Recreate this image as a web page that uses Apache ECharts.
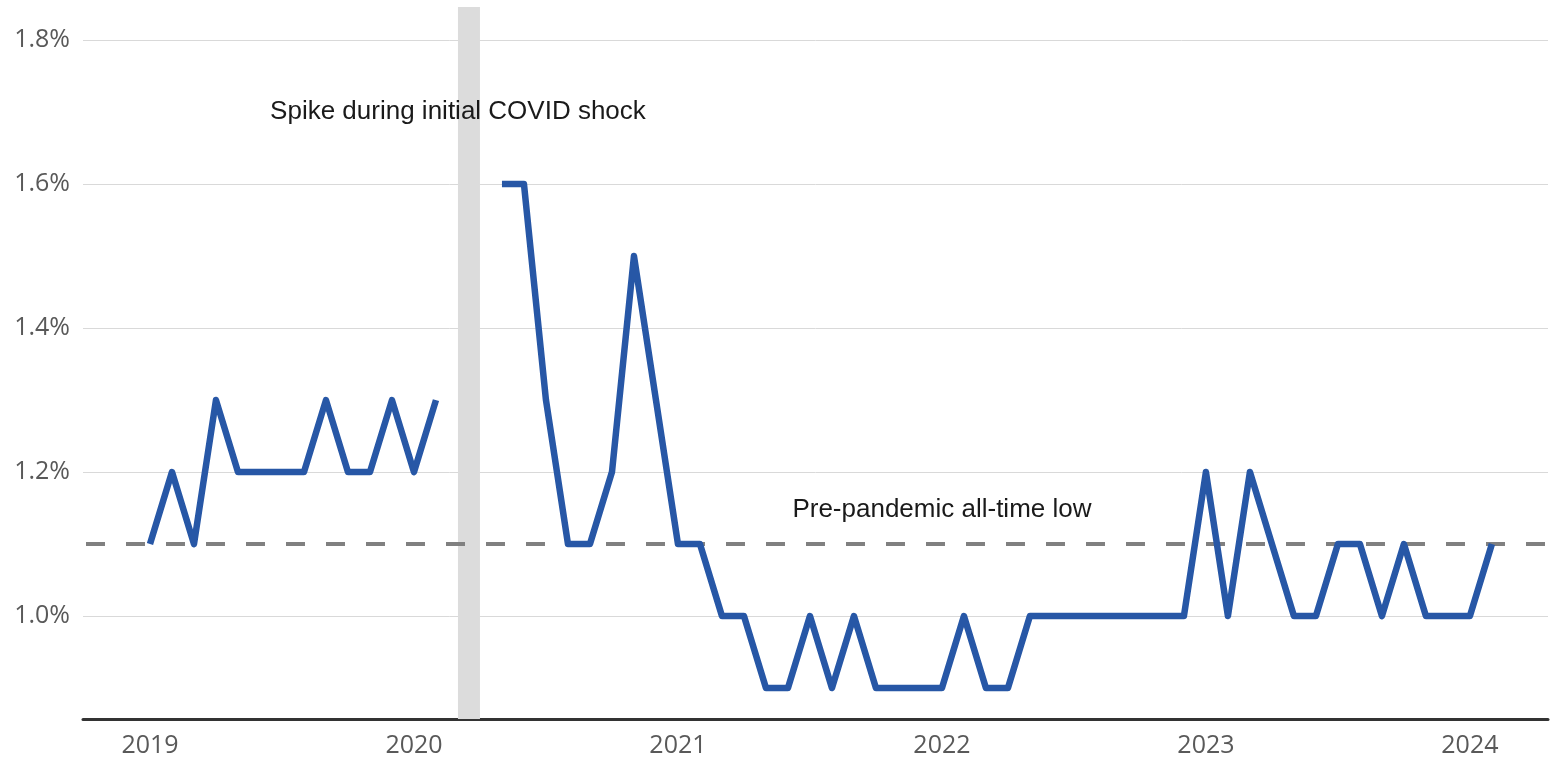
<!DOCTYPE html>
<html>
<head>
<meta charset="utf-8">
<title>Rate chart</title>
<script src="https://cdn.jsdelivr.net/npm/echarts@6/dist/echarts.min.js"></script>
<style>
  html, body { margin: 0; padding: 0; background: #fff; }
  #chart { width: 1557px; height: 761px; }
</style>
</head>
<body>
<div id="chart"></div>
<script>
// monthly readings, Jan 2019 .. Feb 2024 (Mar/Apr 2020 not published)
const months = [
  "2019-01","2019-02","2019-03","2019-04","2019-05","2019-06","2019-07","2019-08","2019-09","2019-10","2019-11","2019-12",
  "2020-01","2020-02","2020-03","2020-04","2020-05","2020-06","2020-07","2020-08","2020-09","2020-10","2020-11","2020-12",
  "2021-01","2021-02","2021-03","2021-04","2021-05","2021-06","2021-07","2021-08","2021-09","2021-10","2021-11","2021-12",
  "2022-01","2022-02","2022-03","2022-04","2022-05","2022-06","2022-07","2022-08","2022-09","2022-10","2022-11","2022-12",
  "2023-01","2023-02","2023-03","2023-04","2023-05","2023-06","2023-07","2023-08","2023-09","2023-10","2023-11","2023-12",
  "2024-01","2024-02"
];
const rates = [
  1.1, 1.2, 1.1, 1.3, 1.2, 1.2, 1.2, 1.2, 1.3, 1.2, 1.2, 1.3,
  1.2, 1.3, null, null, 1.6, 1.6, 1.3, 1.1, 1.1, 1.2, 1.5, 1.3,
  1.1, 1.1, 1.0, 1.0, 0.9, 0.9, 1.0, 0.9, 1.0, 0.9, 0.9, 0.9,
  0.9, 1.0, 0.9, 0.9, 1.0, 1.0, 1.0, 1.0, 1.0, 1.0, 1.0, 1.0,
  1.2, 1.0, 1.2, 1.1, 1.0, 1.0, 1.1, 1.1, 1.0, 1.1, 1.0, 1.0,
  1.0, 1.1
];
const yearTicks = ["2019", "2020", "2021", "2022", "2023", "2024"];
const rateTicks = [1.0, 1.2, 1.4, 1.6, 1.8];
const preCovidLow = 1.1;
const covidGap = ["2020-03", "2020-04"];
const notes = ["Spike during initial COVID shock", "Pre-pandemic all-time low"];

// months since Jan 2019, so the x axis can run a bit past the data
const monthIndex = (m) => {
  const [y, mo] = m.split("-").map(Number);
  return (y - 2019) * 12 + (mo - 1);
};
const yearIndex = yearTicks.map((y) => monthIndex(y + "-01"));

const chart = echarts.init(document.getElementById("chart"));

const axisFont = { fontFamily: "Open Sans", fontSize: 25, color: "#595959" };
const noteFont = { fontFamily: "Liberation Sans", fontSize: 26, color: "#1a1a1a" };

chart.setOption({
  animation: false,
  grid: { left: 83, right: 9, top: 7, bottom: 42 },
  xAxis: {
    type: "value",
    min: -3.045,
    max: 63.55,
    axisLine: { onZero: false, lineStyle: { color: "#333", width: 3 } },
    axisTick: { show: false },
    splitLine: { show: false },
    axisLabel: {
      ...axisFont,
      margin: 14,
      customValues: yearIndex,
      formatter: (v) => String(2019 + Math.round(v / 12)),
    },
  },
  yAxis: {
    type: "value",
    min: 0.857,
    max: 1.846,
    axisLine: { show: false },
    axisTick: { show: false, customValues: rateTicks },
    splitLine: { lineStyle: { color: "#d9d9d9", width: 1 } },
    axisLabel: {
      ...axisFont,
      margin: 13,
      customValues: rateTicks,
      formatter: (v) => v.toFixed(1) + "%",
    },
  },
  series: [
    {
      name: "markers",
      type: "line",
      z: 1,
      data: [],
      markArea: {
        silent: true,
        z: 1,
        itemStyle: { color: "#dcdcdc" },
        data: [[{ xAxis: monthIndex(covidGap[0]) }, { xAxis: monthIndex(covidGap[1]) }]],
      },
      markLine: {
        silent: true,
        z: 2,
        symbol: "none",
        label: { show: false },
        lineStyle: { color: "#808080", width: 4, type: [19, 21], dashOffset: -3, cap: "butt" },
        data: [{ yAxis: preCovidLow }],
      },
    },
    {
      name: "rate",
      type: "line",
      z: 3,
      showSymbol: false,
      connectNulls: false,
      lineStyle: { color: "#2757a6", width: 6.5, join: "round" },
      itemStyle: { color: "#2757a6" },
      data: months.map((m, i) => [monthIndex(m), rates[i]]),
    },
    {
      name: "notes",
      type: "line",
      z: 6,
      data: [],
      markPoint: {
        silent: true,
        z: 8,
        symbol: "circle",
        symbolSize: 1,
        itemStyle: { color: "transparent" },
        label: { show: true, position: "inside", ...noteFont },
        data: [
          { coord: [14, 1.7], value: notes[0] },
          { coord: [36, 1.148], value: notes[1] },
        ],
      },
    },
  ],
});

window.addEventListener("resize", () => chart.resize());
</script>
</body>
</html>
